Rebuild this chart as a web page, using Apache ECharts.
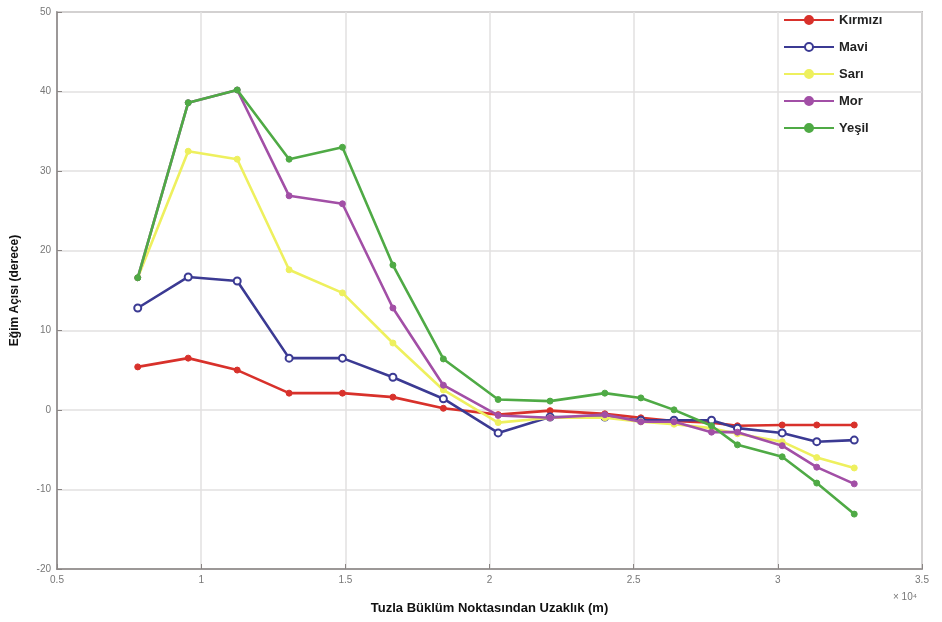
<!DOCTYPE html>
<html>
<head>
<meta charset="utf-8">
<script src="https://cdn.jsdelivr.net/npm/echarts@6/dist/echarts.min.js"></script>
<style>
html,body{margin:0;padding:0;background:#fff;}
#c{width:942px;height:622px;}
</style>
</head>
<body>
<div id="c"></div>
<script>
// Distance from bending point (x 10^4 m)
const xPos = [0.78, 0.955, 1.125, 1.305, 1.49, 1.665, 1.84, 2.03, 2.21, 2.40, 2.525, 2.64, 2.77, 2.86, 3.015, 3.135, 3.265];
// Slope angle (degrees) per series
const kirmizi = [5.4, 6.5, 5.0, 2.1, 2.1, 1.6, 0.2, -0.6, -0.1, -0.5, -1.0, -1.4, -1.6, -2.0, -1.9, -1.9, -1.9];
const mavi    = [12.8, 16.7, 16.2, 6.5, 6.5, 4.1, 1.4, -2.9, -0.9, -0.9, -1.3, -1.3, -1.3, -2.3, -2.9, -4.0, -3.8];
const sari    = [16.6, 32.5, 31.5, 17.6, 14.7, 8.4, 2.5, -1.6, -1.0, -1.0, -1.5, -1.8, -2.3, -3.0, -4.0, -6.0, -7.3];
const mor     = [16.6, 38.6, 40.2, 26.9, 25.9, 12.8, 3.1, -0.7, -1.0, -0.6, -1.5, -1.5, -2.8, -2.8, -4.5, -7.2, -9.3];
const yesil   = [16.6, 38.6, 40.2, 31.5, 33.0, 18.2, 6.4, 1.3, 1.1, 2.1, 1.5, 0.0, -2.0, -4.4, -5.9, -9.2, -13.1];
const seriesNames = ['Kırmızı', 'Mavi', 'Sarı', 'Mor', 'Yeşil'];
const yTicks = { min: -20, max: 50, interval: 10 };
const xTicks = { min: 0.5, max: 3.5, interval: 0.5 };

const seriesValues = [kirmizi, mavi, sari, mor, yesil];
const colors = ['#d8312b', '#3b3a93', '#eef05e', '#a24fa6', '#4faa45'];
const symbols = ['circle', 'emptyCircle', 'circle', 'circle', 'circle'];

const chart = echarts.init(document.getElementById('c'), null, { renderer: 'canvas' });
const font = 'Liberation Sans, Arial, sans-serif';

chart.setOption({
  animation: false,
  backgroundColor: '#ffffff',
  textStyle: { fontFamily: font },
  grid: { left: 57, right: 20, top: 12, bottom: 53, show: true, borderColor: '#8a8584', borderWidth: 1.5, backgroundColor: 'transparent' },
  legend: {
    orient: 'vertical',
    left: 778, top: 7,
    itemWidth: 50, itemHeight: 10, itemGap: 11,
    data: seriesNames,
    textStyle: { fontFamily: font, fontWeight: 'bold', fontSize: 13, color: '#222', lineHeight: 16 }
  },
  xAxis: {
    type: 'value',
    min: xTicks.min, max: xTicks.max, interval: xTicks.interval,
    name: 'Tuzla Büklüm Noktasından Uzaklık (m)',
    nameLocation: 'middle', nameGap: 33,
    nameTextStyle: { fontFamily: font, fontWeight: 'bold', fontSize: 13, color: '#111' },
    axisLine: { show: true, onZero: false, lineStyle: { color: '#8a8584', width: 1.5 } },
    axisTick: { show: true, inside: true, length: 5, lineStyle: { color: '#8a8584' } },
    axisLabel: { color: '#777', fontSize: 10, margin: 6 },
    splitLine: { show: true, lineStyle: { color: '#e2e0e0', width: 1.5 } }
  },
  yAxis: {
    type: 'value',
    min: yTicks.min, max: yTicks.max, interval: yTicks.interval,
    name: 'Eğim Açısı (derece)',
    nameLocation: 'middle', nameGap: 36, nameRotate: 90,
    nameTextStyle: { fontFamily: font, fontWeight: 'bold', fontSize: 12, color: '#111' },
    axisLine: { show: true, onZero: false, lineStyle: { color: '#8a8584', width: 1.5 } },
    axisTick: { show: true, inside: true, length: 5, lineStyle: { color: '#8a8584' } },
    axisLabel: { color: '#777', fontSize: 10, margin: 6 },
    splitLine: { show: true, lineStyle: { color: '#e2e0e0', width: 1.5 } }
  },
  graphic: [{
    type: 'text', left: 893, top: 592,
    style: { text: '× 10⁴', fill: '#777', font: '10px ' + font }
  }],
  series: seriesNames.map((name, i) => ({
    name: name,
    type: 'line',
    data: xPos.map((x, j) => [x, seriesValues[i][j]]),
    symbol: symbols[i],
    symbolSize: i === 1 ? 7 : 6,
    showSymbol: true,
    lineStyle: { color: colors[i], width: 2.6 },
    itemStyle: { color: colors[i], borderColor: colors[i], borderWidth: i === 1 ? 2 : 1 },
    z: 2 + i
  }))
});
</script>
</body>
</html>
